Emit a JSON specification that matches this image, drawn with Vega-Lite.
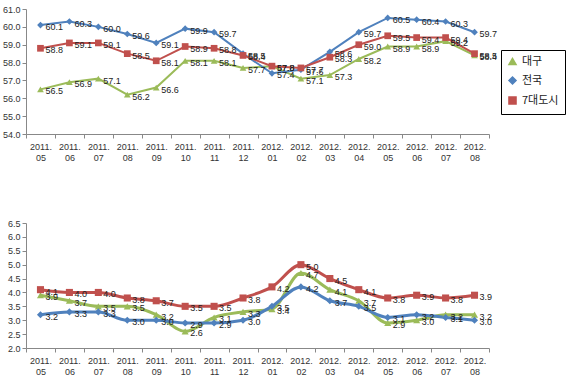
{
  "$schema": "https://vega.github.io/schema/vega-lite/v6.json",
  "background": "white",
  "padding": {"left": 2, "top": 5, "right": 5, "bottom": 5},
  "config": {
    "font": "Liberation Sans",
    "view": {"stroke": null},
    "axis": {"labelFont": "Liberation Sans", "labelFontSize": 9, "labelColor": "#333", "domainColor": "#888", "tickColor": "#888", "grid": false, "title": null},
    "legend": {"labelFont": "Noto Sans CJK KR", "labelFontSize": 11, "labelColor": "#222"}
  },
  "datasets": {
    "top": [
      {"m": "2011.05", "s": "대구", "v": 56.5}, {"m": "2011.06", "s": "대구", "v": 56.9}, {"m": "2011.07", "s": "대구", "v": 57.1}, {"m": "2011.08", "s": "대구", "v": 56.2},
      {"m": "2011.09", "s": "대구", "v": 56.6}, {"m": "2011.10", "s": "대구", "v": 58.1}, {"m": "2011.11", "s": "대구", "v": 58.1}, {"m": "2011.12", "s": "대구", "v": 57.7},
      {"m": "2012.01", "s": "대구", "v": 57.8}, {"m": "2012.02", "s": "대구", "v": 57.1}, {"m": "2012.03", "s": "대구", "v": 57.3}, {"m": "2012.04", "s": "대구", "v": 58.2},
      {"m": "2012.05", "s": "대구", "v": 58.9}, {"m": "2012.06", "s": "대구", "v": 58.9}, {"m": "2012.07", "s": "대구", "v": 59.2}, {"m": "2012.08", "s": "대구", "v": 58.4},
      {"m": "2011.05", "s": "전국", "v": 60.1}, {"m": "2011.06", "s": "전국", "v": 60.3}, {"m": "2011.07", "s": "전국", "v": 60.0}, {"m": "2011.08", "s": "전국", "v": 59.6},
      {"m": "2011.09", "s": "전국", "v": 59.1}, {"m": "2011.10", "s": "전국", "v": 59.9}, {"m": "2011.11", "s": "전국", "v": 59.7}, {"m": "2011.12", "s": "전국", "v": 58.5},
      {"m": "2012.01", "s": "전국", "v": 57.4}, {"m": "2012.02", "s": "전국", "v": 57.6}, {"m": "2012.03", "s": "전국", "v": 58.6}, {"m": "2012.04", "s": "전국", "v": 59.7},
      {"m": "2012.05", "s": "전국", "v": 60.5}, {"m": "2012.06", "s": "전국", "v": 60.4}, {"m": "2012.07", "s": "전국", "v": 60.3}, {"m": "2012.08", "s": "전국", "v": 59.7},
      {"m": "2011.05", "s": "7대도시", "v": 58.8}, {"m": "2011.06", "s": "7대도시", "v": 59.1}, {"m": "2011.07", "s": "7대도시", "v": 59.1}, {"m": "2011.08", "s": "7대도시", "v": 58.5},
      {"m": "2011.09", "s": "7대도시", "v": 58.1}, {"m": "2011.10", "s": "7대도시", "v": 58.9}, {"m": "2011.11", "s": "7대도시", "v": 58.8}, {"m": "2011.12", "s": "7대도시", "v": 58.4},
      {"m": "2012.01", "s": "7대도시", "v": 57.8}, {"m": "2012.02", "s": "7대도시", "v": 57.7}, {"m": "2012.03", "s": "7대도시", "v": 58.3}, {"m": "2012.04", "s": "7대도시", "v": 59.0},
      {"m": "2012.05", "s": "7대도시", "v": 59.5}, {"m": "2012.06", "s": "7대도시", "v": 59.4}, {"m": "2012.07", "s": "7대도시", "v": 59.4}, {"m": "2012.08", "s": "7대도시", "v": 58.5}
    ],
    "bottom": [
      {"m": "2011.05", "s": "대구", "v": 3.9}, {"m": "2011.06", "s": "대구", "v": 3.7}, {"m": "2011.07", "s": "대구", "v": 3.5}, {"m": "2011.08", "s": "대구", "v": 3.5},
      {"m": "2011.09", "s": "대구", "v": 3.2}, {"m": "2011.10", "s": "대구", "v": 2.6}, {"m": "2011.11", "s": "대구", "v": 3.1}, {"m": "2011.12", "s": "대구", "v": 3.3},
      {"m": "2012.01", "s": "대구", "v": 3.4}, {"m": "2012.02", "s": "대구", "v": 4.7}, {"m": "2012.03", "s": "대구", "v": 4.1}, {"m": "2012.04", "s": "대구", "v": 3.7},
      {"m": "2012.05", "s": "대구", "v": 2.9}, {"m": "2012.06", "s": "대구", "v": 3.0}, {"m": "2012.07", "s": "대구", "v": 3.2}, {"m": "2012.08", "s": "대구", "v": 3.2},
      {"m": "2011.05", "s": "전국", "v": 3.2}, {"m": "2011.06", "s": "전국", "v": 3.3}, {"m": "2011.07", "s": "전국", "v": 3.3}, {"m": "2011.08", "s": "전국", "v": 3.0},
      {"m": "2011.09", "s": "전국", "v": 3.0}, {"m": "2011.10", "s": "전국", "v": 2.9}, {"m": "2011.11", "s": "전국", "v": 2.9}, {"m": "2011.12", "s": "전국", "v": 3.0},
      {"m": "2012.01", "s": "전국", "v": 3.5}, {"m": "2012.02", "s": "전국", "v": 4.2}, {"m": "2012.03", "s": "전국", "v": 3.7}, {"m": "2012.04", "s": "전국", "v": 3.5},
      {"m": "2012.05", "s": "전국", "v": 3.1}, {"m": "2012.06", "s": "전국", "v": 3.2}, {"m": "2012.07", "s": "전국", "v": 3.1}, {"m": "2012.08", "s": "전국", "v": 3.0},
      {"m": "2011.05", "s": "7대도시", "v": 4.1}, {"m": "2011.06", "s": "7대도시", "v": 4.0}, {"m": "2011.07", "s": "7대도시", "v": 4.0}, {"m": "2011.08", "s": "7대도시", "v": 3.8},
      {"m": "2011.09", "s": "7대도시", "v": 3.7}, {"m": "2011.10", "s": "7대도시", "v": 3.5}, {"m": "2011.11", "s": "7대도시", "v": 3.5}, {"m": "2011.12", "s": "7대도시", "v": 3.8},
      {"m": "2012.01", "s": "7대도시", "v": 4.2}, {"m": "2012.02", "s": "7대도시", "v": 5.0}, {"m": "2012.03", "s": "7대도시", "v": 4.5}, {"m": "2012.04", "s": "7대도시", "v": 4.1},
      {"m": "2012.05", "s": "7대도시", "v": 3.8}, {"m": "2012.06", "s": "7대도시", "v": 3.9}, {"m": "2012.07", "s": "7대도시", "v": 3.8}, {"m": "2012.08", "s": "7대도시", "v": 3.9}
    ]
  },
  "bounds": "flush",
  "spacing": 89,
  "vconcat": [
    {
      "width": 463, "height": 125,
      "data": {"name": "top"},
      "encoding": {
        "x": {"field": "m", "type": "ordinal", "scale": {"paddingInner": 0, "paddingOuter": 0},
              "axis": {"labelAngle": 0, "tickBand": "extent", "tickSize": 4, "labelPadding": 4, "labelLineHeight": 11,
                       "labelExpr": "isValid(datum.value) ? [split(datum.value,'.')[0] + '.', split(datum.value,'.')[1]] : ''"}},
        "y": {"field": "v", "type": "quantitative", "scale": {"domain": [54, 61], "zero": false, "nice": false},
              "axis": {"values": [54, 55, 56, 57, 58, 59, 60, 61], "format": ".1f", "tickSize": 4}},
        "color": {"field": "s", "type": "nominal",
                  "scale": {"domain": ["대구", "전국", "7대도시"], "range": ["#9BBB59", "#4F81BD", "#C0504D"]},
                  "legend": {"title": null, "orient": "none", "legendX": 475, "legendY": 41, "strokeColor": "#000", "padding": 6, "rowPadding": 5, "symbolSize": 50}}
      },
      "layer": [
        {"mark": {"type": "line", "strokeWidth": 2}},
        {"mark": {"type": "point", "filled": true, "size": 45, "opacity": 1},
         "encoding": {"shape": {"field": "s", "type": "nominal", "scale": {"domain": ["대구", "전국", "7대도시"], "range": ["triangle-up", "diamond", "square"]},
                                "legend": {"title": null, "orient": "none", "legendX": 475, "legendY": 41, "strokeColor": "#000", "padding": 6, "rowPadding": 5, "symbolSize": 50}}}},
        {"mark": {"type": "text", "align": "left", "baseline": "middle", "dx": 5, "dy": 2, "fontSize": 9, "font": "Liberation Sans"},
         "encoding": {"text": {"field": "v", "type": "quantitative", "format": ".1f"}, "color": {"value": "#222"}}}
      ]
    },
    {
      "width": 463, "height": 125,
      "data": {"name": "bottom"},
      "encoding": {
        "x": {"field": "m", "type": "ordinal", "scale": {"paddingInner": 0, "paddingOuter": 0},
              "axis": {"labelAngle": 0, "tickBand": "extent", "tickSize": 4, "labelPadding": 4, "labelLineHeight": 11,
                       "labelExpr": "isValid(datum.value) ? [split(datum.value,'.')[0] + '.', split(datum.value,'.')[1]] : ''"}},
        "y": {"field": "v", "type": "quantitative", "scale": {"domain": [2, 6.5], "zero": false, "nice": false},
              "axis": {"values": [2, 2.5, 3, 3.5, 4, 4.5, 5, 5.5, 6, 6.5], "format": ".1f", "tickSize": 4}},
        "color": {"field": "s", "type": "nominal",
                  "scale": {"domain": ["대구", "전국", "7대도시"], "range": ["#9BBB59", "#4F81BD", "#C0504D"]},
                  "legend": {"title": null, "orient": "none", "legendX": 476, "legendY": 42, "strokeColor": "#000", "padding": 6, "rowPadding": 5, "symbolSize": 50}}
      },
      "layer": [
        {"mark": {"type": "line", "strokeWidth": 3, "interpolate": "monotone"}},
        {"mark": {"type": "point", "filled": true, "size": 50, "opacity": 1},
         "encoding": {"shape": {"field": "s", "type": "nominal", "scale": {"domain": ["대구", "전국", "7대도시"], "range": ["triangle-up", "diamond", "square"]},
                                "legend": {"title": null, "orient": "none", "legendX": 476, "legendY": 42, "strokeColor": "#000", "padding": 6, "rowPadding": 5, "symbolSize": 50}}}},
        {"mark": {"type": "text", "align": "left", "baseline": "middle", "dx": 5, "dy": 2, "fontSize": 9, "font": "Liberation Sans"},
         "encoding": {"text": {"field": "v", "type": "quantitative", "format": ".1f"}, "color": {"value": "#222"}}}
      ]
    }
  ],
  "resolve": {"scale": {"y": "independent", "x": "independent"}}
}
